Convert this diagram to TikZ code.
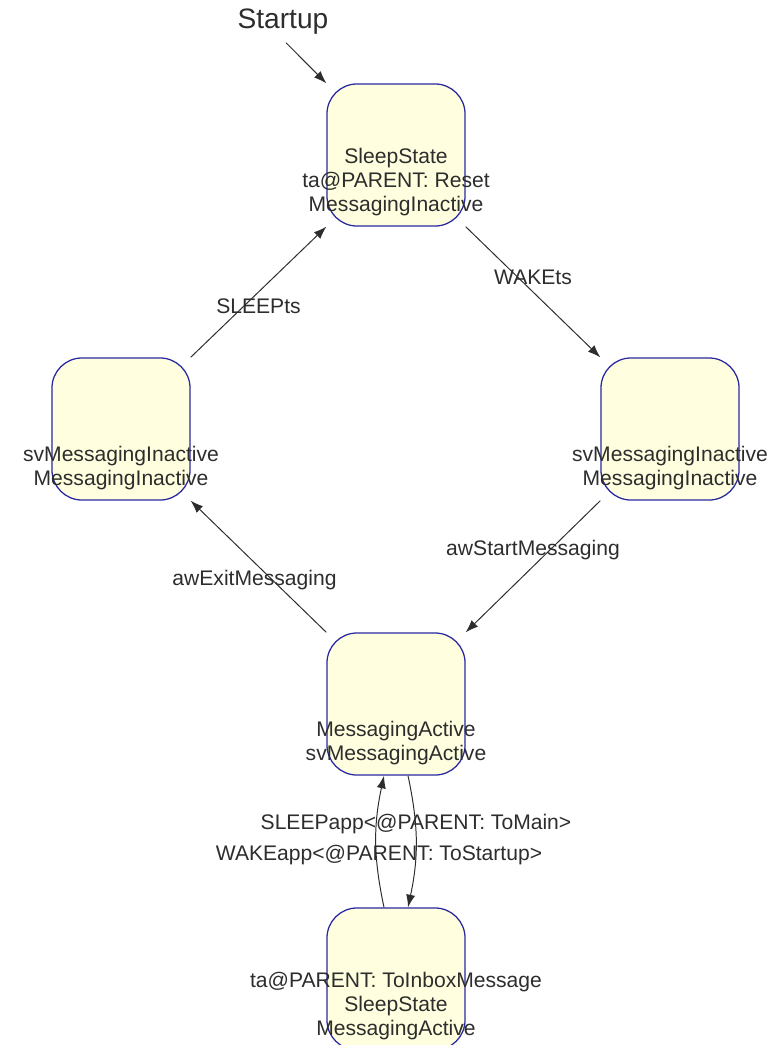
\documentclass[tikz,border=0pt]{standalone}
\usepackage{fontspec}
\setmainfont{Liberation Sans}
\usetikzlibrary{arrows.meta}
\definecolor{stateborder}{RGB}{40,40,160}
\definecolor{statefill}{RGB}{255,255,224}
\definecolor{inkgray}{RGB}{45,45,45}
\tikzset{
  statebox/.style={draw=stateborder, fill=statefill, line width=0.9pt,
    rounded corners=0.75cm, minimum width=3.45cm, minimum height=3.55cm, inner sep=0pt},
  statetext/.style={anchor=south, align=center, inner sep=0pt, yshift=0.27cm,
    font=\fontsize{15}{17}\selectfont, text=inkgray},
  trans/.style={draw=inkgray, line width=0.7pt, -{Latex[length=9pt,width=6.5pt]}},
  translabel/.style={font=\fontsize{15}{17}\selectfont, text=inkgray}
}
\begin{document}
\begin{tikzpicture}[x=0.025cm, y=-0.025cm]
    \useasboundingbox (0,0) rectangle (780,1045);

    % States
    \node[statebox] (sleep) at (396,155) {};
    \node[statebox] (inactL) at (121,429) {};
    \node[statebox] (inactR) at (670,429) {};
    \node[statebox] (active) at (396,704) {};
    \node[statebox] (inbox) at (396,979) {};

    % State texts
    \node[statetext] (sleepT) at (sleep.south)
      {SleepState\\ta@PARENT: Reset\\MessagingInactive};
    \node[statetext] (inactLT) at (inactL.south)
      {svMessagingInactive\\MessagingInactive};
    \node[statetext] (inactRT) at (inactR.south)
      {svMessagingInactive\\MessagingInactive};
    \node[statetext] (activeT) at (active.south)
      {MessagingActive\\svMessagingActive};
    \node[statetext] (inboxT) at (inbox.south)
      {ta@PARENT: ToInboxMessage\\SleepState\\MessagingActive};

    % Startup
    \node[font=\fontsize{20}{24}\selectfont, text=inkgray] (startup) at (283,22) {Startup};
    \draw[trans, shorten <=3pt] (startup.south) -- (sleep.north west);

    % Transitions round the loop
    \draw[trans] (sleep.south east) -- (inactR.north west)
      node[translabel, midway, yshift=0.375cm] (wake) {WAKEts};
    \draw[trans] (inactL.north east) -- (sleep.south west)
      node[translabel, midway, yshift=-0.35cm] (sleepts) {SLEEPts};
    \draw[trans] (inactR.south west) -- (active.north east)
      node[translabel, midway, yshift=0.4cm] (start) {awStartMessaging};
    \draw[trans] (active.north west) -- (inactL.south east)
      node[translabel, midway, xshift=-0.1cm, yshift=-0.33cm] (exit) {awExitMessaging};

    % Transitions between active and inbox
    \draw[trans] ([xshift=-0.3cm]inbox.north) to[bend left=12] ([xshift=-0.3cm]active.south);
    \draw[trans] ([xshift=0.3cm]active.south) to[bend left=12] ([xshift=0.3cm]inbox.north);
    \node[translabel] (sleepapp) at (416,824) {SLEEPapp<@PARENT: ToMain>};
    \node[translabel] (wakeapp) at (379,855) {WAKEapp<@PARENT: ToStartup>};
  \end{tikzpicture}
\end{document}
